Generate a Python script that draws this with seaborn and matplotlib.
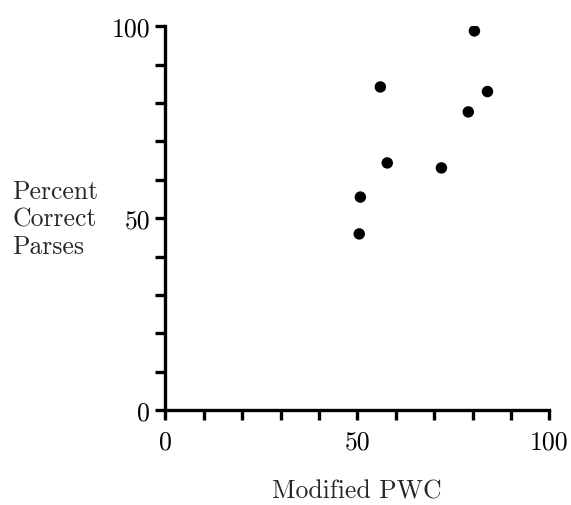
import matplotlib
matplotlib.use("Agg")
import matplotlib.pyplot as plt
import seaborn as sns
import pandas as pd

# Parse accuracy against modified PWC score
modified_pwc = [80.5, 56.0, 83.9, 78.9, 57.8, 71.9, 50.8, 50.5]
percent_correct = [98.8, 84.2, 83.0, 77.7, 64.4, 63.1, 55.5, 45.9]

tick_positions = list(range(0, 101, 10))
tick_labels = ["0", "", "", "", "", "50", "", "", "", "", "100"]

sns.set_style("ticks")
plt.rcParams["font.family"] = ["cmr10", "DejaVu Serif"]
plt.rcParams["axes.formatter.use_mathtext"] = True

df = pd.DataFrame({"pwc": modified_pwc, "pct": percent_correct})

fig = plt.figure(figsize=(5.71, 5.06), dpi=100)
ax = fig.add_axes([0.2895, 0.1877, 0.6725, 0.7583])

sns.scatterplot(data=df, x="pwc", y="pct", ax=ax, color="black",
                s=68, edgecolor="none", legend=False)

ax.set_xlim(0, 100)
ax.set_ylim(0, 100)
ax.set_xticks(tick_positions)
ax.set_xticklabels(tick_labels)
ax.set_yticks(tick_positions)
ax.set_yticklabels(tick_labels)

for side in ("top", "right"):
    ax.spines[side].set_visible(False)
for side in ("left", "bottom"):
    ax.spines[side].set_linewidth(2.4)
    ax.spines[side].set_color("black")

ax.tick_params(axis="both", direction="out", length=7.2, width=2.4,
               labelsize=18.5, colors="black")
ax.tick_params(axis="x", pad=7)
ax.tick_params(axis="y", pad=3.6)

ax.set_xlabel("Modified PWC", fontsize=18.5, va="center")
ax.xaxis.set_label_coords(0.5, -0.211)
ax.set_ylabel("Percent\nCorrect\nParses", fontsize=18.5, rotation=0,
              ha="left", va="center", multialignment="left", linespacing=1.2)
ax.yaxis.set_label_coords(-0.399, 0.5)

fig.savefig("out.png", dpi=100)
